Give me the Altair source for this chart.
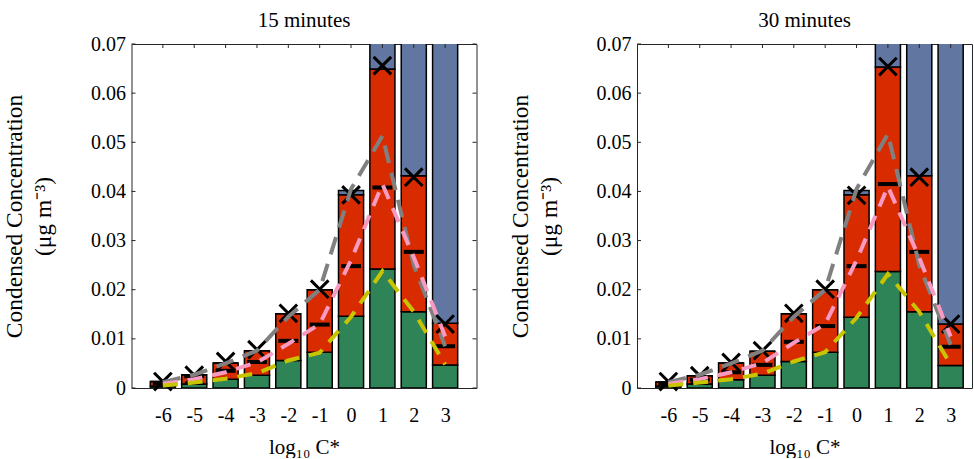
import altair as alt
import pandas as pd

SERIF = "Liberation Serif"
INK = "#262626"

cats = [-6, -5, -4, -3, -2, -1, 0, 1, 2, 3]
y_ticks = [0, 0.01, 0.02, 0.03, 0.04, 0.05, 0.06, 0.07]
titles = ["15 minutes", "30 minutes"]

# ---- 15 minutes ----
green_top_15 = [0.0004, 0.0008, 0.0018, 0.0026, 0.0056, 0.0073, 0.0146, 0.0242, 0.0155, 0.0047]
red_top_15 = [0.0013, 0.0027, 0.0051, 0.0076, 0.0151, 0.0200, 0.0393, 0.0649, 0.0432, 0.0132]
blue_top_15 = [0.0013, 0.0027, 0.0051, 0.0076, 0.0151, 0.0200, 0.0402, 0.0900, 0.1200, 0.1600]
cross_15 = [0.0013, 0.0026, 0.0054, 0.0078, 0.0152, 0.0201, 0.0393, 0.0656, 0.0429, 0.0130]
dash_15 = [0.0010, 0.0024, 0.0035, 0.0053, 0.0096, 0.0129, 0.0248, 0.0408, 0.0277, 0.0085]
gray_15 = [0.0012, 0.0027, 0.0050, 0.0076, 0.0145, 0.0200, 0.0405, 0.0513, 0.0250, 0.0085]
pink_15 = [0.0008, 0.0018, 0.0032, 0.0052, 0.0090, 0.0130, 0.0260, 0.0415, 0.0266, 0.0105]
yellow_15 = [0.0005, 0.0011, 0.0019, 0.0030, 0.0056, 0.0072, 0.0145, 0.0238, 0.0155, 0.0048]

# ---- 30 minutes ----
green_top_30 = [0.0004, 0.0008, 0.0017, 0.0026, 0.0054, 0.0073, 0.0144, 0.0237, 0.0155, 0.0046]
red_top_30 = [0.0012, 0.0025, 0.0051, 0.0075, 0.0151, 0.0200, 0.0393, 0.0653, 0.0432, 0.0130]
blue_top_30 = [0.0012, 0.0025, 0.0051, 0.0075, 0.0151, 0.0200, 0.0402, 0.0900, 0.1200, 0.1600]
cross_30 = [0.0013, 0.0025, 0.0052, 0.0076, 0.0152, 0.0201, 0.0392, 0.0654, 0.0429, 0.0130]
dash_30 = [0.0009, 0.0017, 0.0032, 0.0047, 0.0094, 0.0126, 0.0248, 0.0415, 0.0277, 0.0084]
gray_30 = [0.0012, 0.0027, 0.0050, 0.0076, 0.0145, 0.0200, 0.0405, 0.0517, 0.0250, 0.0088]
pink_30 = [0.0008, 0.0018, 0.0032, 0.0051, 0.0092, 0.0130, 0.0260, 0.0410, 0.0265, 0.0105]
yellow_30 = [0.0005, 0.0011, 0.0018, 0.0029, 0.0054, 0.0073, 0.0143, 0.0232, 0.0155, 0.0048]

GREEN, RED, BLUE = "#2e8457", "#d92b00", "#6177a1"
GRAY, PINK, YELLOW = "#808080", "#f99ac2", "#c9c400"

CROSS = "M-1,-1L1,1M-1,1L1,-1"
PX_PER_UNIT = 345 / 11.0


def panel(title, green_top, red_top, blue_top, cross, dash, gray, pink, yellow,
          width, show_right_ticks):
    xmax = -7 + width / PX_PER_UNIT
    df = pd.DataFrame({
        "cat": cats, "green": green_top, "red": red_top, "blue": blue_top,
        "cross": cross, "dash": dash, "gray": gray, "pink": pink, "yellow": yellow,
    })
    df["x0"] = df["cat"] - 0.4
    df["x1"] = df["cat"] + 0.4
    df["zero"] = 0.0

    xscale = alt.Scale(domain=[-7, xmax], nice=False, zero=False)
    yscale = alt.Scale(domain=[0, 0.07], nice=False, zero=False)
    xaxis = alt.Axis(values=cats, labelExpr="'' + datum.value", ticks=False, tickSize=0,
                     domain=False, grid=False, labelFont=SERIF, labelFontSize=20,
                     labelColor="black", labelPadding=17, title="log₁₀ C*",
                     titleFont=SERIF, titleFontSize=21, titleFontWeight="normal",
                     titleColor="black", titlePadding=11, labelFlush=False)
    yaxis = alt.Axis(values=y_ticks, format=".2~f", ticks=False, tickSize=0, domain=False,
                     grid=False, labelFont=SERIF, labelFontSize=20, labelColor="black",
                     labelPadding=6, title=["Condensed Concentration", "(μg m⁻³)"],
                     titleFont=SERIF, titleFontSize=23.5, titleFontWeight="normal",
                     titleColor="black", titlePadding=35, titleLineHeight=29,
                     labelFlush=False)

    def X(f):
        return alt.X(f, scale=xscale, axis=xaxis)

    def Y(f):
        return alt.Y(f, scale=yscale, axis=yaxis)

    base = alt.Chart(df)
    bars = []
    for lo, hi, col in [("zero", "green", GREEN), ("green", "red", RED), ("red", "blue", BLUE)]:
        bars.append(base.mark_bar(color=col, stroke="black", strokeWidth=1.5, clip=True).encode(
            x=X("x0:Q"), x2="x1:Q", y=Y(f"{lo}:Q"), y2=f"{hi}:Q"))

    crosses = base.mark_point(shape=CROSS, size=310, filled=False, stroke="black",
                              strokeWidth=3, opacity=1).encode(x=X("cat:Q"), y=Y("cross:Q"))
    dashes = base.mark_tick(orient="horizontal", size=20, thickness=4, color="black",
                            opacity=1).encode(x=X("cat:Q"), y=Y("dash:Q"))
    lines = []
    for f, col, dsh in [("gray", GRAY, [18, 10]), ("pink", PINK, [15, 10]), ("yellow", YELLOW, [15, 10])]:
        lines.append(base.mark_line(color=col, strokeWidth=4, strokeDash=dsh, strokeCap="butt").encode(
            x=X("cat:Q"), y=Y(f"{f}:Q")))

    ydf = pd.DataFrame({"v": y_ticks})
    cdf = pd.DataFrame({"c": cats})
    lt = alt.Chart(ydf).mark_rule(color=INK, strokeWidth=1).encode(
        y=Y("v:Q"), x=alt.value(0), x2=alt.value(4))
    tt = alt.Chart(cdf).mark_rule(color=INK, strokeWidth=1).encode(
        x=X("c:Q"), y=alt.value(0), y2=alt.value(4))
    layers = bars + [crosses, dashes] + lines + [lt, tt]
    if show_right_ticks:
        rt = alt.Chart(ydf).mark_rule(color=INK, strokeWidth=1).encode(
            y=Y("v:Q"), x=alt.value(width - 4), x2=alt.value(width))
        layers.append(rt)

    return alt.layer(*layers).properties(
        width=width, height=344,
        title=alt.TitleParams(title, font=SERIF, fontSize=21, fontWeight="normal",
                              color="black", anchor="middle", offset=3),
    )


left = panel(titles[0], green_top_15, red_top_15, blue_top_15, cross_15, dash_15,
             gray_15, pink_15, yellow_15, 345, True)
right = panel(titles[1], green_top_30, red_top_30, blue_top_30, cross_30, dash_30,
              gray_30, pink_30, yellow_30, 335, False)

chart = alt.hconcat(left, right, spacing=29.5).properties(
    padding={"left": 1.5, "top": 9, "right": 0, "bottom": 0},
    background="white",
).configure_view(stroke=INK, strokeWidth=1)

chart.save("out.html", embed_options={"renderer": "svg", "actions": False})
